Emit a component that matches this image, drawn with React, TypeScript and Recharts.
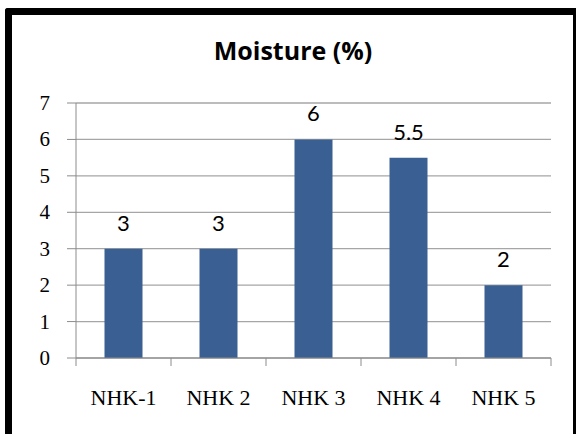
import { BarChart, Bar, XAxis, YAxis, CartesianGrid, LabelList } from 'recharts'

const samples = ['NHK-1', 'NHK 2', 'NHK 3', 'NHK 4', 'NHK 5']
const moisture = [3, 3, 6, 5.5, 2]
const yTicks = [0, 1, 2, 3, 4, 5, 6, 7]

const data = samples.map((name, i) => ({ name, moisture: moisture[i] }))

const AXIS = '#8c8c8c'
const GRID = '#a6a6a6'
const BAR = '#3a5f92'
const SERIF = "'Liberation Serif', 'Times New Roman', serif"

// Category label plus tick marks on the band edges (Excel style)
function SampleTick(props: any) {
  const { x, y, payload, index } = props
  const half = payload.offset ?? 47.5
  const last = index === samples.length - 1
  return (
    <g>
      <line x1={x - half} y1={y} x2={x - half} y2={y + 8} stroke={AXIS} />
      {last && <line x1={x + half} y1={y} x2={x + half} y2={y + 8} stroke={AXIS} />}
      <text x={x} y={y + 47} textAnchor="middle" fill="#000" fontFamily={SERIF} fontSize={22}>
        {payload.value}
      </text>
    </g>
  )
}

function ValueTick(props: any) {
  const { x, y, payload } = props
  return (
    <text x={x} y={y + 7} textAnchor="end" fill="#000" fontFamily={SERIF} fontSize={21}>
      {payload.value}
    </text>
  )
}

export default function App() {
  return (
    <div style={{ position: 'absolute', left: 0, top: 0, width: 578, height: 434, background: '#fff', overflow: 'hidden' }}>
      <div
        style={{
          position: 'absolute',
          left: 5,
          top: 8,
          width: 561,
          height: 440,
          borderTop: '7px solid #000',
          borderLeft: '7px solid #000',
          borderRight: '3px solid #000',
          borderTopLeftRadius: 3,
        }}
      />
      <svg width={578} height={434} style={{ position: 'absolute', left: 0, top: 0 }}>
        <text
          x={293}
          y={60}
          textAnchor="middle"
          fontFamily="'Open Sans', sans-serif"
          fontWeight={700}
          fontSize={25}
          fill="#000"
        >
          Moisture (%)
        </text>
      </svg>
      <div style={{ position: 'absolute', left: 0, top: 0 }}>
        <BarChart
          width={578}
          height={434}
          data={data}
          margin={{ top: 103, right: 27, bottom: 0, left: 0 }}
          barCategoryGap="30%"
        >
          <CartesianGrid vertical={false} stroke={GRID} strokeWidth={1.3} />
          <XAxis
            dataKey="name"
            height={76}
            axisLine={{ stroke: AXIS }}
            tickLine={false}
            tickSize={0}
            tickMargin={0}
            interval={0}
            tick={<SampleTick />}
          />
          <YAxis
            width={76}
            domain={[0, 7]}
            ticks={yTicks}
            interval={0}
            axisLine={{ stroke: AXIS }}
            tickLine={{ stroke: AXIS }}
            tickSize={9}
            tickMargin={17}
            tick={<ValueTick />}
          />
          <Bar dataKey="moisture" fill={BAR} isAnimationActive={false}>
            <LabelList
              dataKey="moisture"
              position="top"
              offset={18}
              fill="#000"
              fontSize={22}
              fontFamily="Lato, sans-serif"
            />
          </Bar>
        </BarChart>
      </div>
    </div>
  )
}
